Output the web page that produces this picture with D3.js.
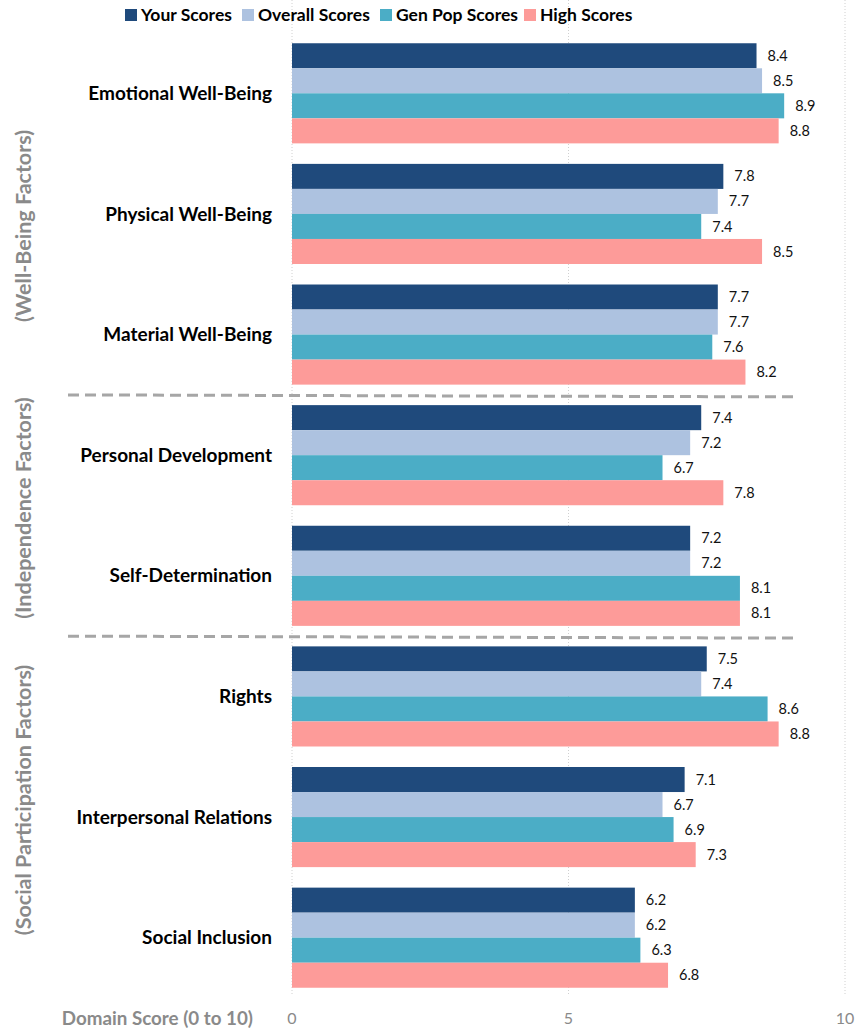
<!DOCTYPE html>
<html>
<head>
<meta charset="utf-8">
<script src="https://cdn.jsdelivr.net/npm/d3@7"></script>
<style>
  body { margin: 0; background: #fff; }
  svg { font-family: Lato, "Open Sans", sans-serif; }
</style>
</head>
<body>
<div id="chart"></div>
<script>
// chart data
const categories = ['Emotional Well-Being', 'Physical Well-Being', 'Material Well-Being',
    'Personal Development', 'Self-Determination', 'Rights', 'Interpersonal Relations', 'Social Inclusion'];
const seriesNames = ['Your Scores', 'Overall Scores', 'Gen Pop Scores', 'High Scores'];
const yourScores = [8.4, 7.8, 7.7, 7.4, 7.2, 7.5, 7.1, 6.2];
const overallScores = [8.5, 7.7, 7.7, 7.2, 7.2, 7.4, 6.7, 6.2];
const genPopScores = [8.9, 7.4, 7.6, 6.7, 8.1, 8.6, 6.9, 6.3];
const highScores = [8.8, 8.5, 8.2, 7.8, 8.1, 8.8, 7.3, 6.8];
const groupLabels = ['(Well-Being Factors)', '(Independence Factors)', '(Social Participation Factors)'];
const groupCenters = [226, 508, 800];
const separatorAfter = ['Material Well-Being', 'Self-Determination'];
const xTicks = [0, 5, 10];
const colors = ['#1f4a7c', '#adc2e0', '#4badc6', '#fd9b99'];

const width = 857, height = 1030;
const svg = d3.select('#chart').append('svg')
    .attr('width', width)
    .attr('height', height);

const allSeries = [yourScores, overallScores, genPopScores, highScores];

const x = d3.scaleLinear().domain([0, 10]).range([292, 845]);
const y = d3.scaleBand().domain(categories).range([33, 998]).paddingInner(0.17).paddingOuter(0.085);
const ySub = d3.scaleBand().domain(seriesNames).range([0, y.bandwidth()]);

// vertical grid lines
svg.append('g')
    .selectAll('line')
    .data(xTicks)
    .join('line')
    .attr('x1', d => x(d)).attr('x2', d => x(d))
    .attr('y1', 0).attr('y2', 995)
    .attr('stroke', '#d0d0d0')
    .attr('stroke-width', 1)
    .attr('stroke-dasharray', '1,2');

// bars
const rows = categories.map((c, i) => ({
    cat: c,
    vals: seriesNames.map((s, j) => ({ series: s, value: allSeries[j][i], color: colors[j] }))
}));

const rowG = svg.append('g')
    .selectAll('g')
    .data(rows)
    .join('g')
    .attr('transform', d => `translate(0,${y(d.cat)})`);

rowG.selectAll('rect')
    .data(d => d.vals)
    .join('rect')
    .attr('x', x(0))
    .attr('y', d => ySub(d.series))
    .attr('width', d => x(d.value) - x(0))
    .attr('height', ySub.bandwidth())
    .attr('fill', d => d.color);

rowG.selectAll('text.val')
    .data(d => d.vals)
    .join('text')
    .attr('class', 'val')
    .attr('x', d => x(d.value) + 11)
    .attr('y', d => ySub(d.series) + ySub.bandwidth() / 2)
    .attr('dy', '0.35em')
    .attr('font-size', '14.5px')
    .attr('fill', '#111')
    .text(d => d.value.toFixed(1));

// category labels
svg.append('g')
    .selectAll('text')
    .data(categories)
    .join('text')
    .attr('x', 272)
    .attr('y', d => y(d) + y.bandwidth() / 2)
    .attr('dy', '0.35em')
    .attr('text-anchor', 'end')
    .attr('font-size', '19px')
    .attr('font-weight', 'bold')
    .attr('fill', '#000')
    .text(d => d);

// dashed separators between groups
const sepY = separatorAfter.map(c => {
    const i = categories.indexOf(c);
    return (y(c) + y.bandwidth() + y(categories[i + 1])) / 2;
});
svg.append('g')
    .selectAll('line')
    .data(sepY)
    .join('line')
    .attr('x1', 68).attr('x2', 795)
    .attr('y1', d => d).attr('y2', d => d + 2)
    .attr('stroke', '#a6a6a6')
    .attr('stroke-width', 3)
    .attr('stroke-dasharray', '11,6');

// rotated group labels
svg.append('g')
    .selectAll('text')
    .data(groupLabels)
    .join('text')
    .attr('transform', (d, i) => `translate(23,${groupCenters[i]}) rotate(-90)`)
    .attr('dy', '0.35em')
    .attr('text-anchor', 'middle')
    .attr('font-size', '21.5px')
    .attr('font-weight', 'bold')
    .attr('fill', '#8a8a8a')
    .text(d => d);

// x axis tick labels
svg.append('g')
    .selectAll('text')
    .data(xTicks)
    .join('text')
    .attr('x', d => x(d))
    .attr('y', 1018)
    .attr('dy', '0.35em')
    .attr('text-anchor', 'middle')
    .attr('font-size', '16px')
    .attr('fill', '#8a8a8a')
    .text(d => d);

svg.append('text')
    .attr('x', 253)
    .attr('y', 1018)
    .attr('dy', '0.35em')
    .attr('text-anchor', 'end')
    .attr('font-size', '18.8px')
    .attr('font-weight', 'bold')
    .attr('fill', '#8a8a8a')
    .text('Domain Score (0 to 10)');

// legend
const legendX = [125, 242, 380, 524];
const legend = svg.append('g')
    .selectAll('g')
    .data(seriesNames)
    .join('g')
    .attr('transform', (d, i) => `translate(${legendX[i]},15)`);

legend.append('rect')
    .attr('x', 0).attr('y', -6)
    .attr('width', 12).attr('height', 12)
    .attr('fill', (d, i) => colors[i]);

legend.append('text')
    .attr('x', 16)
    .attr('dy', '0.35em')
    .attr('font-size', '17.5px')
    .attr('font-weight', 'bold')
    .attr('fill', '#000')
    .text(d => d);
</script>
</body>
</html>
